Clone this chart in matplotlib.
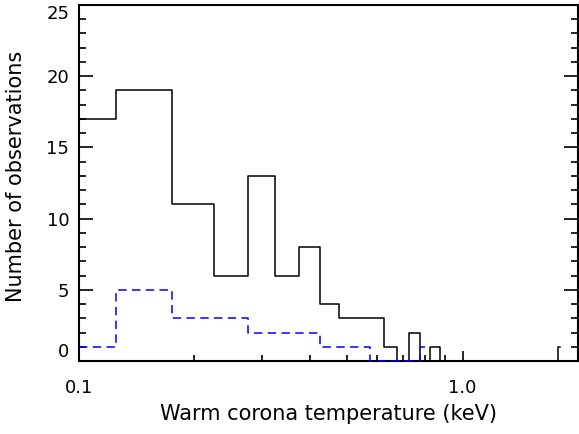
import numpy as np
import matplotlib
matplotlib.use("Agg")
import matplotlib.pyplot as plt
from matplotlib.ticker import FixedLocator, NullFormatter, FixedFormatter

# bin centres (keV)
centers_all = [0.10, 0.15, 0.20, 0.25, 0.30, 0.35, 0.40, 0.45, 0.50, 0.55,
               0.60, 0.65, 0.70, 0.75, 0.80, 0.85, 0.90, 0.95, 1.00, 1.05,
               1.10, 1.15, 1.20, 1.25, 1.30, 1.35, 1.40, 1.45, 1.50, 1.55,
               1.60, 1.65, 1.70, 1.75, 1.80]
counts_all = [17, 19, 11, 6, 13, 6, 8, 4, 3, 3,
              3, 1, 0, 2, 0, 1, 0, 0, 0, 0,
              0, 0, 0, 0, 0, 0, 0, 0, 0, 0,
              0, 0, 0, 0, 1]

centers_sub = [0.10, 0.15, 0.20, 0.25, 0.30, 0.35, 0.40, 0.45, 0.50, 0.55,
               0.60, 0.65, 0.70, 0.75, 0.80]
counts_sub = [1, 5, 3, 3, 2, 2, 2, 1, 1, 1,
              0, 0, 0, 0, 1]

xtick_major = [0.1, 1.0]
xtick_labels = ["0.1", "1.0"]
ytick_major = [0, 5, 10, 15, 20, 25]

plt.rcParams['font.family'] = ['DejaVu Sans']

fig = plt.figure(figsize=(5.79, 4.34), dpi=100)
ax = fig.add_axes([79/579, 1-361/434, (578-79)/579, (361-5)/434])

ax.step(centers_all, counts_all, where='mid', color='black', lw=1.1,
        zorder=3, clip_on=False)
ax.step(centers_sub, counts_sub, where='mid', color='#0000ff', lw=1.1,
        linestyle=(0, (5.5, 3.5)), zorder=3, clip_on=False)

ax.set_xscale('log')
ax.set_xlim(0.1, 2.0)
ax.set_ylim(0, 25)

ax.xaxis.set_major_locator(FixedLocator(xtick_major))
ax.xaxis.set_major_formatter(FixedFormatter(xtick_labels))
minors = [v * d for d in (0.1, 1.0) for v in range(2, 10) if v * d <= 2.0]
ax.xaxis.set_minor_locator(FixedLocator(minors))
ax.xaxis.set_minor_formatter(NullFormatter())

ax.yaxis.set_major_locator(FixedLocator(ytick_major))
ax.yaxis.set_minor_locator(FixedLocator(list(range(0, 26))))

ax.tick_params(axis='x', which='major', direction='in', length=7, width=1.2,
               top=False, labelsize=13, pad=13)
ax.tick_params(axis='x', which='minor', direction='in', length=4, width=1.2,
               top=False)
ax.tick_params(axis='y', which='major', direction='in', length=10, width=1.2,
               right=True, labelsize=13, pad=7)
ax.tick_params(axis='y', which='minor', direction='in', length=5, width=1.2,
               right=True)

for s in ax.spines.values():
    s.set_linewidth(1.5)

ax.set_xlabel("Warm corona temperature (keV)", fontsize=15)
ax.xaxis.set_label_coords(0.5, (361 - 404) / 356)
ax.set_ylabel("Number of observations", fontsize=15)
ax.yaxis.set_label_coords((26 - 79) / 499, 0.5 + (183 - 176) / 356)

fig.canvas.draw()
ylabels = ax.yaxis.get_majorticklabels()
for lab in ylabels:
    t = lab.get_text()
    if t == "25":
        lab.set_verticalalignment('top')
    elif t == "0":
        lab.set_verticalalignment('bottom')

fig.savefig("out.png", dpi=100)
